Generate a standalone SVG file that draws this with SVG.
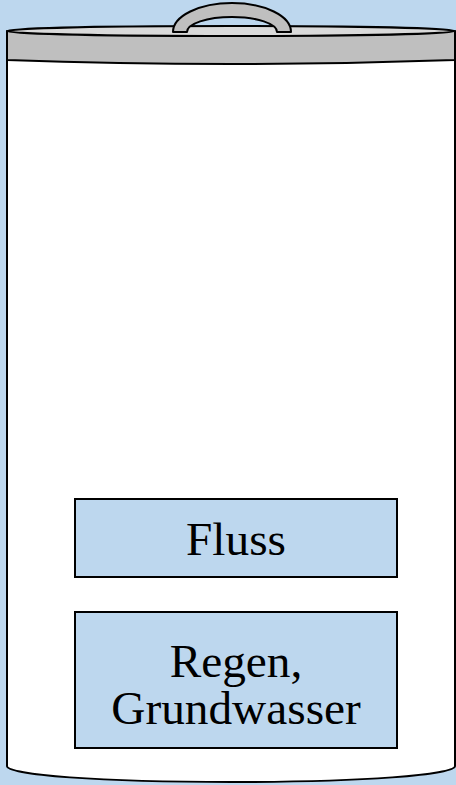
<svg xmlns="http://www.w3.org/2000/svg" width="456" height="785" viewBox="0 0 456 785">
<style>
.ln{stroke:#000;stroke-width:2;stroke-linejoin:round}
.box{fill:#BDD7EE;stroke:#000;stroke-width:2}
.t{font-family:"Liberation Serif","Times New Roman",serif;font-size:47.3px;fill:#000;text-anchor:middle}
</style>
<rect width="456" height="785" fill="#BDD7EE"/>
<g id="container">
<path class="ln" fill="#FFFFFF" d="M7,58 L7,766 C7,775 100,782 231,782 C362,782 455,775 455,766 L455,58 Z"/>
<path class="ln" fill="#BFBFBF" d="M7,31 L7,60 Q231,68 455,60 L455,31 Z"/>
<ellipse class="ln" cx="231" cy="31" rx="224" ry="5" fill="#DADADA"/>
<path class="ln" fill="#BFBFBF" d="M173,32 A59,29 0 0 1 291,32 L277,32 A45,15 0 0 0 187,32 Z"/>
</g>
<g id="fluss">
<rect class="box" x="75" y="499" width="322" height="78"/>
<text class="t" x="236" y="555">Fluss</text>
</g>
<g id="regen">
<rect class="box" x="75" y="612" width="322" height="136"/>
<text class="t" x="236" y="677">Regen,</text>
<text class="t" x="236" y="724">Grundwasser</text>
</g>
<g id="connectors"/>
</svg>
